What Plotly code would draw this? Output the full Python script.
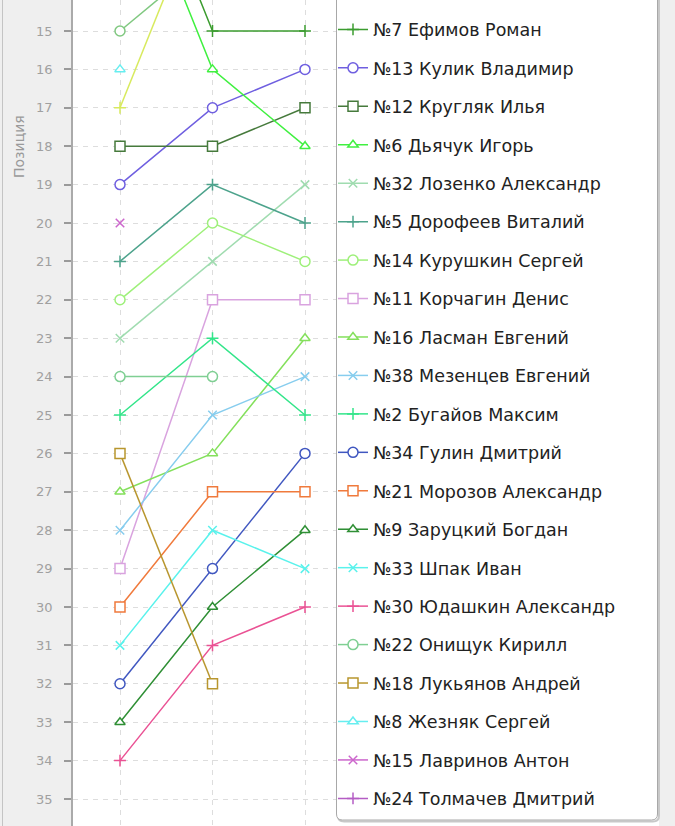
import plotly.graph_objects as go

# туры (столбцы графика)
rounds = [1, 2, 3]

# участники в порядке легенды
names = [
    "№7 Ефимов Роман", "№13 Кулик Владимир", "№12 Кругляк Илья", "№6 Дьячук Игорь",
    "№32 Лозенко Александр", "№5 Дорофеев Виталий", "№14 Курушкин Сергей",
    "№11 Корчагин Денис", "№16 Ласман Евгений", "№38 Мезенцев Евгений",
    "№2 Бугайов Максим", "№34 Гулин Дмитрий", "№21 Морозов Александр",
    "№9 Заруцкий Богдан", "№33 Шпак Иван", "№30 Юдашкин Александр",
    "№22 Онищук Кирилл", "№18 Лукьянов Андрей", "№8 Жезняк Сергей",
    "№15 Лавринов Антон", "№24 Толмачев Дмитрий",
]

# позиции по турам (None - нет данных)
pos_round1 = [9, 19, 18, 10, 23, 21, 22, 29, 27, 28, 25, 32, 30, 33, 31, 34, 24, 26, 16, 20, 12]
pos_round2 = [15, 17, 18, 16, 21, 19, 20, 22, 26, 25, 23, 29, 27, 30, 28, 31, 24, 32, None, None, None]
pos_round3 = [15, 16, 17, 18, 19, 20, 21, 22, 23, 24, 25, 26, 27, 28, 29, 30, None, None, None, None, None]

# две линии, чьи подписи в легенде выше видимой области
top_round1 = [15, 17]
top_round2 = [13, 11]
top_round3 = [None, None]

colors = [
    "#3b9c2f", "#6f5fe0", "#467a3c", "#40f040", "#a0dcb0", "#4da38c", "#9ef07a",
    "#d9a3df", "#84e05c", "#87cdee", "#33e58a", "#4057c0", "#f07a3c", "#2f8f35",
    "#5af2ec", "#ea5294", "#7fcf93", "#b8962e", "#66eef0", "#cc66cc", "#b45cc4",
]
top_colors = ["#80c880", "#d8ea5e"]

symbol_cycle = ["cross", "circle", "square", "triangle", "x"]
top_symbols = ["circle", "cross"]

W, H = 675, 826
L, R = 73, 16
PW = W - L - R


def px_x(px):
    return (px - L) / PW


def px_y(py):
    return 1 - py / H


def marker_style(kind, color):
    if kind == "cross":
        return dict(symbol="cross-thin-open", size=8.5, color=color,
                    line=dict(color=color, width=1.5))
    if kind == "x":
        return dict(symbol="x-thin-open", size=8.5, color=color,
                    line=dict(color=color, width=1.5))
    sym = {"circle": "circle", "square": "square", "triangle": "triangle-up"}[kind]
    size = {"circle": 10, "square": 10, "triangle": 9}[kind]
    return dict(symbol=sym, size=size, color="white", line=dict(color=color, width=1.5))


fig = go.Figure()

for i, (c, s) in enumerate(zip(top_colors, top_symbols)):
    fig.add_trace(go.Scatter(
        x=rounds, y=[top_round1[i], top_round2[i], top_round3[i]],
        mode="lines+markers", showlegend=False,
        line=dict(color=c, width=1.5), marker=marker_style(s, c),
    ))

for i, name in enumerate(names):
    c = colors[i]
    fig.add_trace(go.Scatter(
        x=rounds, y=[pos_round1[i], pos_round2[i], pos_round3[i]],
        name=name, legendgroup=name,
        mode="lines+markers",
        line=dict(color=c, width=1.5),
        marker=marker_style(symbol_cycle[i % 5], c),
    ))

# рамка легенды (верх уходит за край)
x0, x1 = 336.5, 657.5
ytop, ybot, r = -20, 820, 6


def box_path(dx=0.0, dy=0.0):
    a, b = x0 + dx, x1 + dx
    t, bt = ytop + dy, ybot + dy
    return (f"M {px_x(a)},{px_y(t)} L {px_x(a)},{px_y(bt - r)} "
            f"Q {px_x(a)},{px_y(bt)} {px_x(a + r)},{px_y(bt)} "
            f"L {px_x(b - r)},{px_y(bt)} Q {px_x(b)},{px_y(bt)} {px_x(b)},{px_y(bt - r)} "
            f"L {px_x(b)},{px_y(t)} Z")


shapes = [
    dict(type="path", xref="paper", yref="paper", path=box_path(1.5, 1.5), layer="above",
         fillcolor="rgba(0,0,0,0)", line=dict(color="#c8c8c8", width=2)),
    dict(type="path", xref="paper", yref="paper", path=box_path(), layer="above",
         fillcolor="white", line=dict(color="#a8a8a8", width=1)),
    dict(type="line", xref="paper", yref="paper", x0=px_x(2.5), x1=px_x(2.5), y0=0, y1=1,
         line=dict(color="#c4c4c4", width=1)),
]

fig.update_layout(
    width=W, height=H,
    margin=dict(l=L, r=R, t=0, b=0, autoexpand=False),
    paper_bgcolor="#efefef",
    plot_bgcolor="white",
    font=dict(family="DejaVu Sans"),
    shapes=shapes,
    showlegend=True,
    legend=dict(
        x=px_x(333), xanchor="left",
        y=px_y(11.5), yanchor="top",
        bgcolor="rgba(0,0,0,0)", borderwidth=0,
        font=dict(family="DejaVu Sans", size=17.5, color="#222222"),
        traceorder="grouped", tracegroupgap=12.7,
        maxheight=2000,
    ),
    annotations=[dict(
        text="Позиция", x=px_x(19), y=px_y(147), xref="paper", yref="paper",
        textangle=-90, showarrow=False, xanchor="center", yanchor="middle",
        font=dict(family="DejaVu Sans", size=14, color="#9a9a9a"),
    )],
)

fig.update_xaxes(
    range=[1 - 47 / 92.5, 1 - 47 / 92.5 + PW / 92.5],
    tickvals=rounds, showticklabels=False, ticks="",
    showgrid=True, gridcolor="#dddddd", griddash="5px,5px", gridwidth=1,
    zeroline=False, showline=False,
)
fig.update_yaxes(
    range=[15 + 795 / 38.4, 15 - 31 / 38.4],
    tick0=15, dtick=1,
    ticks="outside", ticklen=7, tickwidth=1.5, tickcolor="#9a9a9a",
    ticklabelstandoff=9,
    tickfont=dict(family="DejaVu Sans", size=13, color="#a0a0a0"),
    showline=True, linecolor="#aaaaaa", linewidth=1.5,
    showgrid=True, gridcolor="#dddddd", griddash="5px,5px", gridwidth=1,
    zeroline=False,
)

# убираем стандартный отступ body, чтобы график начинался с угла страницы
fig.write_html("out.html", config={"displayModeBar": False},
               post_script="document.body.style.margin='0';")
